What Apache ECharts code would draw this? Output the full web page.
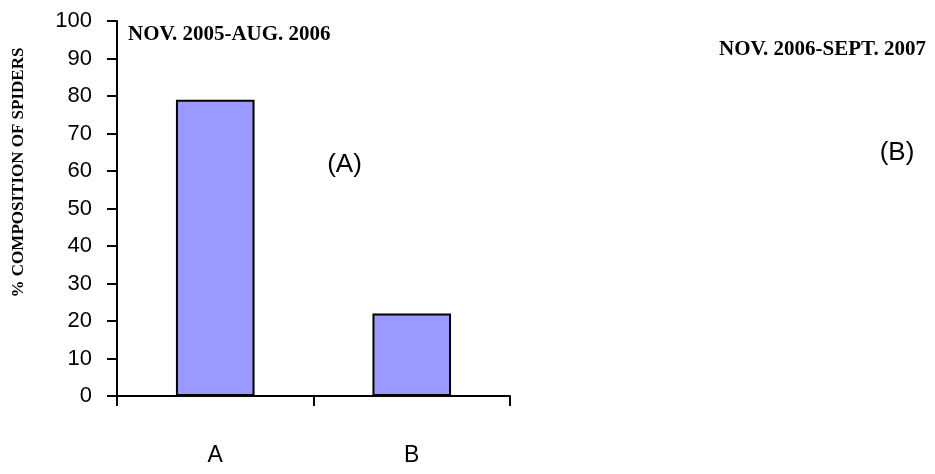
<!DOCTYPE html>
<html>
<head>
<meta charset="utf-8">
<script src="https://cdn.jsdelivr.net/npm/echarts@6/dist/echarts.min.js"></script>
<style>
html,body{margin:0;padding:0;background:#fff;}
#chart{width:935px;height:474px;}
</style>
</head>
<body>
<div id="chart"></div>
<script>
const categories = ['A', 'B'];
const values = [79, 22];
const yTicks = {min: 0, max: 100, interval: 10};
const yAxisName = '% COMPOSITION OF SPIDERS';
const periodA = 'NOV. 2005-AUG. 2006';
const periodB = 'NOV. 2006-SEPT. 2007';
const panelA = '(A)';
const panelB = '(B)';

const chart = echarts.init(document.getElementById('chart'));
const serifBold = {fontFamily: '"Liberation Serif", "Times New Roman", serif', fontWeight: 'bold', fill: '#000'};
const sans = 'Arial, "Liberation Sans", sans-serif';
chart.setOption({
  animation: false,
  backgroundColor: '#fff',
  grid: {left: 117, right: 425, top: 21, bottom: 78, containLabel: false},
  xAxis: {
    type: 'category',
    data: categories,
    boundaryGap: true,
    axisLine: {lineStyle: {color: '#000', width: 2}},
    axisTick: {show: true, length: 10, alignWithLabel: false, lineStyle: {color: '#000', width: 2}},
    axisLabel: {margin: 48, color: '#000', fontSize: 23, fontFamily: sans},
    splitLine: {show: false}
  },
  yAxis: {
    type: 'value',
    min: yTicks.min, max: yTicks.max, interval: yTicks.interval,
    axisLine: {show: true, lineStyle: {color: '#000', width: 2}},
    axisTick: {show: true, length: 10, lineStyle: {color: '#000', width: 2}},
    axisLabel: {margin: 25, color: '#000', fontSize: 22, fontFamily: sans},
    splitLine: {show: false}
  },
  series: [{
    type: 'bar',
    data: values,
    barWidth: '40%',
    itemStyle: {color: '#9999FF', borderColor: '#000', borderWidth: 2}
  }],
  graphic: [
    {type: 'text', left: 128, top: 24, style: Object.assign({text: periodA, fontSize: 21}, serifBold)},
    {type: 'text', left: 719, top: 39, style: Object.assign({text: periodB, fontSize: 21}, serifBold)},
    {type: 'text', x: 344.5, y: 165, style: {text: panelA, fontSize: 26, fontFamily: sans, fill: '#000', align: 'center', verticalAlign: 'middle'}},
    {type: 'text', x: 897, y: 153, style: {text: panelB, fontSize: 26, fontFamily: sans, fill: '#000', align: 'center', verticalAlign: 'middle'}},
    {type: 'text', x: 19, y: 172.5, rotation: Math.PI / 2, style: Object.assign({text: yAxisName, fontSize: 17, align: 'center', verticalAlign: 'middle'}, serifBold)}
  ]
});
</script>
</body>
</html>
